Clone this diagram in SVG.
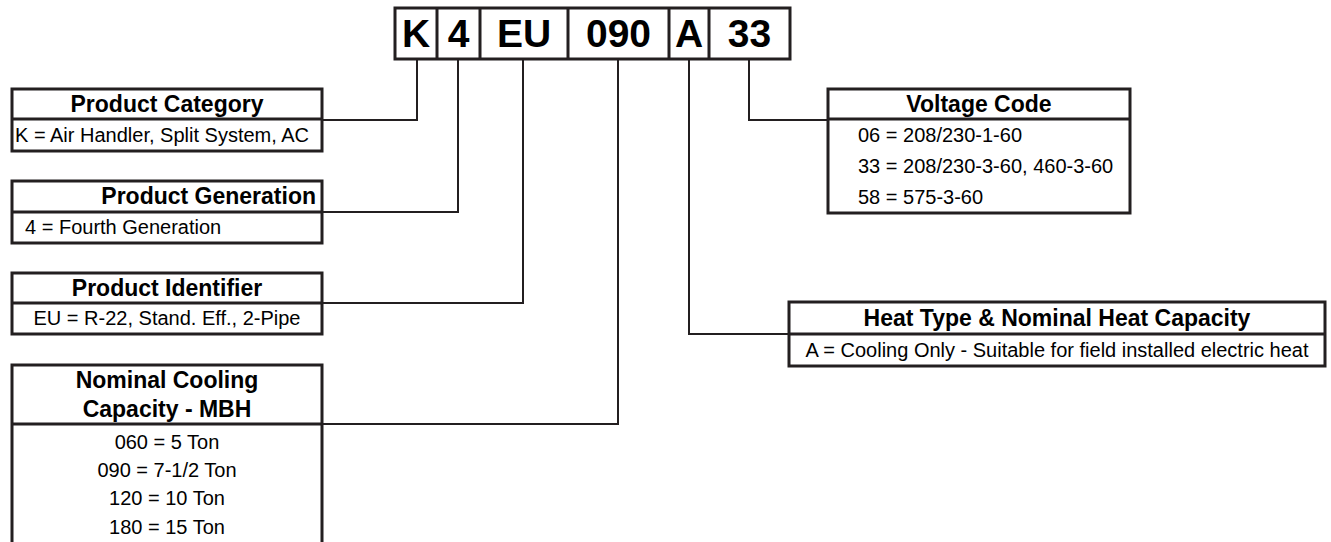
<svg xmlns="http://www.w3.org/2000/svg" width="1331" height="542" viewBox="0 0 1331 542">
<style>
.bx{fill:#fff;stroke:#231f20;stroke-width:3}
.dv{stroke:#231f20;stroke-width:3;fill:none}
.cn{stroke:#231f20;stroke-width:2;fill:none}
.code{font-family:"Liberation Sans",Arial,sans-serif;font-weight:bold;font-size:39px;fill:#000;text-anchor:middle}
.hd{font-family:"Liberation Sans",Arial,sans-serif;font-weight:bold;font-size:23px;fill:#000;text-anchor:middle}
.bd{font-family:"Liberation Sans",Arial,sans-serif;font-size:20px;fill:#000}
.c{text-anchor:middle}
</style>
<rect width="1331" height="542" fill="#fff"/>
<g id="connectors">
<path class="cn" d="M417 59V120H322"/>
<path class="cn" d="M458 59V212H322"/>
<path class="cn" d="M523 59V303H322"/>
<path class="cn" d="M618 59V424H322"/>
<path class="cn" d="M689 59V334H789"/>
<path class="cn" d="M749 59V120H828"/>
</g>
<g id="model-code">
<rect class="bx" x="395" y="8" width="395" height="51"/>
<path class="dv" d="M437 8V59M480 8V59M568 8V59M669 8V59M709 8V59"/>
<text class="code" x="416" y="47">K</text>
<text class="code" x="458.5" y="47">4</text>
<text class="code" x="524" y="47">EU</text>
<text class="code" x="618.5" y="47">090</text>
<text class="code" x="689" y="47">A</text>
<text class="code" x="749.5" y="47">33</text>
</g>
<g id="product-category">
<rect class="bx" x="12" y="89" width="310" height="62"/>
<path class="dv" d="M12 119H322"/>
<text class="hd" x="167" y="112">Product Category</text>
<text class="bd" x="15" y="142">K = Air Handler, Split System, AC</text>
</g>
<g id="product-generation">
<rect class="bx" x="12" y="181" width="310" height="62"/>
<path class="dv" d="M12 212H322"/>
<text class="hd" x="316" y="204" style="text-anchor:end">Product Generation</text>
<text class="bd" x="25" y="234">4 = Fourth Generation</text>
</g>
<g id="product-identifier">
<rect class="bx" x="12" y="273" width="310" height="61"/>
<path class="dv" d="M12 303H322"/>
<text class="hd" x="167" y="296">Product Identifier</text>
<text class="bd c" x="167" y="325">EU = R-22, Stand. Eff., 2-Pipe</text>
</g>
<g id="nominal-cooling">
<path class="bx" d="M12 545V365H322V545"/>
<path class="dv" d="M12 424H322"/>
<text class="hd" x="167" y="388">Nominal Cooling</text>
<text class="hd" x="167" y="417">Capacity - MBH</text>
<text class="bd c" x="167" y="449">060 = 5 Ton</text>
<text class="bd c" x="167" y="477">090 = 7-1/2 Ton</text>
<text class="bd c" x="167" y="505">120 = 10 Ton</text>
<text class="bd c" x="167" y="534">180 = 15 Ton</text>
</g>
<g id="voltage-code">
<rect class="bx" x="828" y="89" width="302" height="124"/>
<path class="dv" d="M828 119H1130"/>
<text class="hd" x="979" y="112">Voltage Code</text>
<text class="bd" x="858" y="142">06 = 208/230-1-60</text>
<text class="bd" x="858" y="173">33 = 208/230-3-60, 460-3-60</text>
<text class="bd" x="858" y="204">58 = 575-3-60</text>
</g>
<g id="heat-type">
<rect class="bx" x="789" y="302" width="536" height="64"/>
<path class="dv" d="M789 334H1325"/>
<text class="hd" x="1057" y="326">Heat Type &amp; Nominal Heat Capacity</text>
<text class="bd c" x="1057" y="357">A = Cooling Only - Suitable for field installed electric heat</text>
</g>
</svg>
